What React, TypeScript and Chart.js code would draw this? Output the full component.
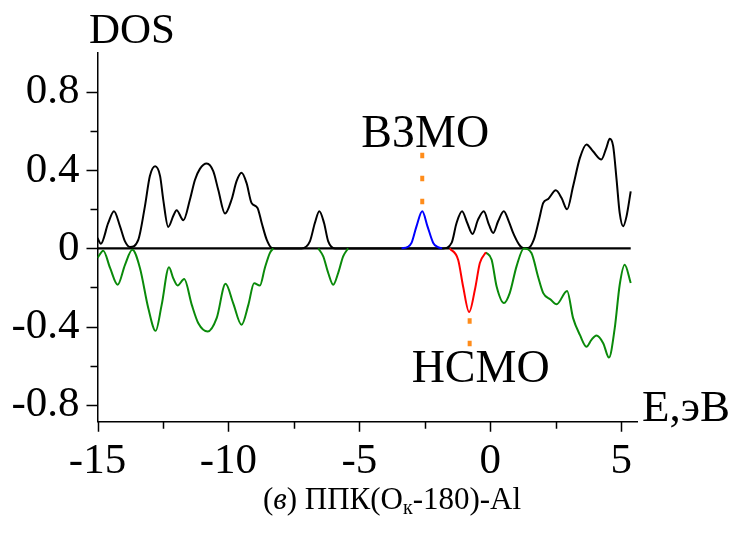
import React, { useEffect, useRef } from 'react';
import { Chart, registerables } from 'chart.js';

Chart.register(...registerables);

// ---------- data ----------
// spin-up DOS (black), upper half
const upE = [
  -15.0, -14.87, -14.59, -14.37, -14.14, -13.95, -13.76, -13.44, -13.19, -13.0,
  -12.8, -12.61, -12.49, -12.3, -12.1, -11.98, -11.72, -11.47, -11.28, -11.09,
  -10.83, -10.58, -10.39, -10.13, -9.88, -9.69, -9.5, -9.31, -9.12, -8.89,
  -8.73, -8.54, -8.35, -8.2, -7.21, -6.89, -6.7, -6.53, -6.35, -6.19,
  -5.93, -1.8, -1.48, -1.29, -1.08, -0.88, -0.68, -0.47, -0.25, -0.05,
  0.11, 0.3, 0.515, 0.7, 0.87, 1.1, 1.25, 1.44, 1.66, 1.86,
  2.02, 2.21, 2.5, 2.72, 2.93, 3.16, 3.42, 3.67, 3.92, 4.24,
  4.43, 4.56, 4.69, 4.82, 4.94, 5.07, 5.2, 5.36,
];
const upDOS = [
  0.053, 0.024, 0.13, 0.19, 0.113, 0.036, 0.007, 0.045, 0.215, 0.37,
  0.42, 0.37, 0.25, 0.11, 0.168, 0.195, 0.144, 0.25, 0.35, 0.407,
  0.434, 0.395, 0.3, 0.178, 0.25, 0.344, 0.387, 0.335, 0.233, 0.207,
  0.13, 0.045, 0.003, 0, 0, 0.036, 0.13, 0.19, 0.13, 0.036,
  0, 0, 0.028, 0.13, 0.19, 0.13, 0.074, 0.147, 0.19, 0.12,
  0.079, 0.14, 0.19, 0.14, 0.079, 0.019, 0.002, 0.002, 0.045, 0.147,
  0.233, 0.253, 0.297, 0.258, 0.2, 0.318, 0.463, 0.532, 0.497, 0.455,
  0.515, 0.561, 0.523, 0.352, 0.18, 0.113, 0.164, 0.292,
];

// spin-down DOS (green), lower half; null = no line
const downE = [
  -15.0, -14.78, -14.52, -14.23, -13.95, -13.67, -13.38, -13.06, -12.78, -12.55,
  -12.27, -12.11, -11.94, -11.69, -11.4, -11.15, -10.79, -10.45, -10.11, -9.82,
  -9.5, -9.24, -9.02, -8.8, -8.61, -8.42, -8.29, -7.5, -6.57, -6.38,
  -6.19, -6.0, -5.81, -5.62, -5.43, -3.0, -0.17, 0.05, 0.24, 0.52,
  0.74, 1.0, 1.28, 1.57, 1.82, 2.02, 2.3, 2.53, 2.93, 3.16,
  3.42, 3.67, 3.86, 4.05, 4.31, 4.53, 4.75, 4.94, 5.13, 5.36,
];
const downDOS = [
  -0.049, -0.012, -0.1, -0.186, -0.084, -0.007, -0.1, -0.306, -0.422, -0.289,
  -0.097, -0.152, -0.19, -0.157, -0.289, -0.383, -0.425, -0.357, -0.181, -0.28,
  -0.391, -0.289, -0.178, -0.19, -0.1, -0.024, 0, null, 0, -0.041,
  -0.126, -0.186, -0.126, -0.041, 0, null, -0.02, -0.058, -0.195, -0.28,
  -0.229, -0.092, 0, -0.024, -0.144, -0.229, -0.262, -0.286, -0.218, -0.357,
  -0.443, -0.503, -0.468, -0.446, -0.485, -0.559, -0.408, -0.186, -0.084, -0.177,
];

// HOMO peak (blue)
const homoE = [-3.39, -3.15, -3.01, -2.82, -2.6, -2.4, -2.18, -2.02, -1.84];
const homoDOS = [0, 0.008, 0.028, 0.113, 0.19, 0.113, 0.028, 0.008, 0];

// LUMO peak (red)
const lumoE = [-1.55, -1.23, -1.04, -0.81, -0.59, -0.4, -0.17];
const lumoDOS = [0, -0.058, -0.195, -0.326, -0.212, -0.075, -0.02];

// level markers (orange, dashed)
const homoLevel = -2.6;
const homoMarkDOS = [0.49, 0.22];
const lumoLevel = -0.79;
const lumoMarkDOS = [-0.357, -0.505];

const zeroLineE = [-15, 5.36];

const xMajorTicks = [-15, -10, -5, 0, 5];
const xTickLabels = ['-15', '-10', '-5', '0', '5'];
const xMinorTicks = [-12.5, -7.5, -2.5, 2.5];
const yMajorTicks = [-0.8, -0.4, 0, 0.4, 0.8];
const yTickLabels = ['-0.8', '-0.4', '0', '0.4', '0.8'];
const yMinorTicks = [-0.6, -0.2, 0.2, 0.6];

const yAxisTitle = 'DOS';
const xAxisTitle = 'E,эВ';
const homoLabel = 'ВЗМО';
const lumoLabel = 'НСМО';

const SERIF = "'Liberation Serif', 'Times New Roman', serif";

const pts = (xs: number[], ys: (number | null)[]) => xs.map((x, i) => ({ x, y: ys[i] }));

const decorPlugin = {
  id: 'decor',
  afterDraw(chart: any) {
    const { ctx, chartArea, scales } = chart;
    const xs = scales.x;
    const ys = scales.y;
    ctx.save();
    // tick marks
    ctx.strokeStyle = '#000';
    ctx.lineWidth = 1.5;
    ctx.beginPath();
    for (const v of yMajorTicks) {
      const p = Math.round(ys.getPixelForValue(v)) + 0.5;
      ctx.moveTo(chartArea.left - 11, p);
      ctx.lineTo(chartArea.left, p);
    }
    for (const v of yMinorTicks) {
      const p = Math.round(ys.getPixelForValue(v)) + 0.5;
      ctx.moveTo(chartArea.left - 7, p);
      ctx.lineTo(chartArea.left, p);
    }
    for (const v of xMajorTicks) {
      const p = Math.round(xs.getPixelForValue(v)) + 0.5;
      ctx.moveTo(p, chartArea.bottom);
      ctx.lineTo(p, chartArea.bottom + 10);
    }
    for (const v of xMinorTicks) {
      const p = Math.round(xs.getPixelForValue(v)) + 0.5;
      ctx.moveTo(p, chartArea.bottom);
      ctx.lineTo(p, chartArea.bottom + 7);
    }
    ctx.stroke();

    // texts
    ctx.fillStyle = '#000';
    ctx.textBaseline = 'alphabetic';
    ctx.font = `43px ${SERIF}`;
    ctx.textAlign = 'left';
    ctx.fillText(yAxisTitle, 89, 43);
    ctx.font = `45px ${SERIF}`;
    ctx.fillText(xAxisTitle, 642, 421);

    ctx.font = `46px ${SERIF}`;
    ctx.textAlign = 'center';
    const hx = xs.getPixelForValue(homoLevel);
    ctx.fillText(homoLabel, hx + 3, 146.5);
    const lx = xs.getPixelForValue(lumoLevel);
    ctx.fillText(lumoLabel, lx + 11, 381.5);

    // caption: (в) ППК(Ок-180)-Al
    const parts = [
      { t: '(', f: `31px ${SERIF}`, dy: 0 },
      { t: 'в', f: `italic 31px ${SERIF}`, dy: 0 },
      { t: ') ППК(О', f: `31px ${SERIF}`, dy: 0 },
      { t: 'к', f: `20px ${SERIF}`, dy: 5 },
      { t: '-180)-Al', f: `31px ${SERIF}`, dy: 0 },
    ];
    let total = 0;
    for (const p of parts) {
      ctx.font = p.f;
      total += ctx.measureText(p.t).width;
    }
    ctx.textAlign = 'left';
    let cx = 392 - total / 2;
    for (const p of parts) {
      ctx.font = p.f;
      ctx.fillText(p.t, cx, 509 + p.dy);
      cx += ctx.measureText(p.t).width;
    }
    ctx.restore();
  },
};

export default function App() {
  const ref = useRef<HTMLCanvasElement | null>(null);

  useEffect(() => {
    if (!ref.current) return;
    const lineBase = {
      showLine: true,
      pointRadius: 0,
      pointHoverRadius: 0,
      borderWidth: 2,
      fill: false,
      cubicInterpolationMode: 'monotone' as const,
      tension: 0.4,
      spanGaps: false,
    };
    const chart = new Chart(ref.current, {
      type: 'scatter',
      data: {
        datasets: [
          {
            ...lineBase,
            data: pts(zeroLineE, [0, 0]),
            borderColor: '#000',
            borderWidth: 2.2,
            cubicInterpolationMode: 'default',
            tension: 0,
            order: 10,
          },
          { ...lineBase, data: pts(upE, upDOS), borderColor: '#000', order: 9 },
          { ...lineBase, data: pts(downE, downDOS), borderColor: '#0a8a0a', order: 8 },
          { ...lineBase, data: pts(homoE, homoDOS), borderColor: '#0000ff', order: 3 },
          { ...lineBase, data: pts(lumoE, lumoDOS), borderColor: '#ff0000', order: 3 },
          {
            ...lineBase,
            data: pts([homoLevel, homoLevel], homoMarkDOS),
            borderColor: '#ff8c1a',
            borderWidth: 4,
            borderDash: [5.5, 17.5],
            borderCapStyle: 'butt',
            cubicInterpolationMode: 'default',
            tension: 0,
            order: 1,
          },
          {
            ...lineBase,
            data: pts([lumoLevel, lumoLevel], lumoMarkDOS),
            borderColor: '#ff8c1a',
            borderWidth: 4,
            borderDash: [5.5, 17],
            borderCapStyle: 'butt',
            cubicInterpolationMode: 'default',
            tension: 0,
            order: 1,
          },
        ],
      },
      options: {
        responsive: false,
        animation: false,
        devicePixelRatio: 1,
        layout: { padding: { top: 53, right: 97, left: 0, bottom: 0 } },
        plugins: {
          legend: { display: false },
          tooltip: { enabled: false },
          title: { display: false },
        },
        events: [],
        scales: {
          x: {
            type: 'linear',
            min: -15,
            max: 5.6,
            grid: { display: false, drawTicks: false },
            border: { display: true, color: '#000', width: 1.5 },
            afterBuildTicks: (s: any) => {
              s.ticks = xMajorTicks.map((v) => ({ value: v }));
            },
            afterFit: (s: any) => {
              s.height = 118.3;
            },
            ticks: {
              autoSkip: false,
              maxRotation: 0,
              padding: 14,
              color: '#000',
              font: { family: SERIF, size: 43 },
              callback: (v: any) => {
                const i = xMajorTicks.indexOf(Number(v));
                return i >= 0 ? xTickLabels[i] : '';
              },
            },
          },
          y: {
            type: 'linear',
            min: -0.887,
            max: 1.0,
            grid: { display: false, drawTicks: false },
            border: { display: true, color: '#000', width: 1.5 },
            afterBuildTicks: (s: any) => {
              s.ticks = yMajorTicks.map((v) => ({ value: v }));
            },
            afterFit: (s: any) => {
              s.width = 97.5;
            },
            ticks: {
              autoSkip: false,
              padding: 18,
              color: '#000',
              font: { family: SERIF, size: 43 },
              callback: (v: any) => {
                const i = yMajorTicks.findIndex((t) => Math.abs(t - Number(v)) < 1e-9);
                return i >= 0 ? yTickLabels[i] : '';
              },
            },
          },
        },
      },
      plugins: [decorPlugin],
    } as any);
    return () => chart.destroy();
  }, []);

  return (
    <div style={{ position: 'absolute', left: 0, top: 0, width: 734, height: 540, background: '#fff' }}>
      <canvas ref={ref} width={734} height={540} />
    </div>
  );
}
